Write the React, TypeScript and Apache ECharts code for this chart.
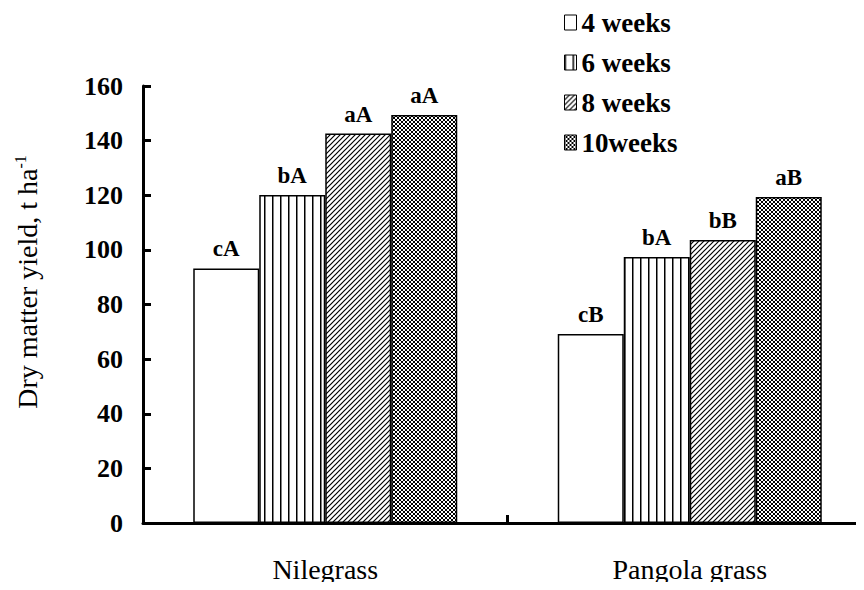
import React, { useEffect, useRef } from "react";
import * as echarts from "echarts";

const categories = ["Nilegrass", "Pangola grass"];
const seriesNames = ["4 weeks", "6 weeks", "8 weeks", "10weeks"];
const w4 = [93.2, 69.2];
const w6 = [120.1, 97.4];
const w8 = [142.6, 103.6];
const w10 = [149.4, 119.4];
const letters4 = ["cA", "cB"];
const letters6 = ["bA", "bA"];
const letters8 = ["aA", "bB"];
const letters10 = ["aA", "aB"];
const yTicks = [0, 20, 40, 60, 80, 100, 120, 140, 160];
const yTitle = "Dry matter yield, t ha";
const yTitleSup = "-1";

const FONT = "'Liberation Serif', 'Times New Roman', serif";
const CHART_W = 880;

function makeCanvas(size: number, draw: (ctx: CanvasRenderingContext2D) => void) {
  const c = document.createElement("canvas");
  c.width = size;
  c.height = size;
  const ctx = c.getContext("2d")!;
  ctx.fillStyle = "#ffffff";
  ctx.fillRect(0, 0, size, size);
  ctx.strokeStyle = "#000000";
  draw(ctx);
  return c;
}

export default function App() {
  const ref = useRef<HTMLDivElement>(null);
  useEffect(() => {
    if (!ref.current) return;
    const chart = echarts.init(ref.current, undefined, { renderer: "svg" });

    const vert = makeCanvas(8, (ctx) => {
      ctx.fillStyle = "#000";
      ctx.fillRect(0, 0, 1.5, 8);
    });
    const diag = makeCanvas(5, (ctx) => {
      ctx.lineWidth = 1.2;
      ctx.beginPath();
      ctx.moveTo(-1, 6);
      ctx.lineTo(6, -1);
      ctx.moveTo(-4, 4);
      ctx.lineTo(4, -4);
      ctx.moveTo(1, 9);
      ctx.lineTo(9, 1);
      ctx.stroke();
    });
    const cross = makeCanvas(4, (ctx) => {
      ctx.lineWidth = 1;
      ctx.beginPath();
      ctx.moveTo(-1, 5);
      ctx.lineTo(5, -1);
      ctx.moveTo(-1, -1);
      ctx.lineTo(5, 5);
      ctx.moveTo(-3, 3);
      ctx.lineTo(3, -3);
      ctx.moveTo(1, 7);
      ctx.lineTo(7, 1);
      ctx.moveTo(-3, 1);
      ctx.lineTo(3, 7);
      ctx.moveTo(1, -3);
      ctx.lineTo(7, 3);
      ctx.stroke();
    });

    const fills: any[] = [
      "#ffffff",
      { image: vert, repeat: "repeat" },
      { image: diag, repeat: "repeat" },
      { image: cross, repeat: "repeat" },
    ];
    const values = [w4, w6, w8, w10];
    const letters = [letters4, letters6, letters8, letters10];

    const series = values.map((vals, si) => ({
      name: seriesNames[si],
      type: "bar",
      barWidth: 66,
      barGap: "0%",
      data: vals,
      itemStyle: { color: fills[si], borderColor: "#000", borderWidth: 1.5 },
      label: {
        show: true,
        position: "top",
        distance: 8,
        formatter: (p: any) => letters[si][p.dataIndex],
        fontFamily: FONT,
        fontWeight: "bold",
        fontSize: 23,
        color: "#000",
      },
    }));

    chart.setOption({
      animation: false,
      backgroundColor: "#fff",
      legend: {
        orient: "vertical",
        left: 559,
        top: 4,
        itemWidth: 12,
        itemHeight: 15,
        itemGap: 13,
        icon: "rect",
        data: seriesNames,
        textStyle: {
          fontFamily: FONT,
          fontWeight: "bold",
          fontSize: 27,
          color: "#000",
        },
        itemStyle: { borderColor: "#000", borderWidth: 1 },
      },
      graphic: [
        {
          type: "text",
          x: 27,
          y: 282,
          rotation: Math.PI / 2,
          style: {
            text: "{a|" + yTitle + "}{s|" + yTitleSup + "}",
            align: "center",
            verticalAlign: "middle",
            fill: "#000",
            rich: {
              a: { fontFamily: FONT, fontSize: 28, fill: "#000" },
              s: { fontFamily: FONT, fontSize: 16, fill: "#000", verticalAlign: "top", padding: [0, 0, 14, 0] },
            },
          },
        },
      ],
      grid: { left: 143, right: CHART_W - 872, top: 86, bottom: 67 },
      xAxis: {
        type: "category",
        data: categories,
        axisLine: { lineStyle: { color: "#000", width: 3 } },
        axisTick: { show: true, inside: true, length: 8, lineStyle: { width: 3, color: "#000" } },
        axisLabel: {
          margin: 32,
          fontFamily: FONT,
          fontSize: 28,
          lineHeight: 28,
          color: "#000",
        },
      },
      yAxis: {
        type: "value",
        min: 0,
        max: 160,
        interval: 20,
        splitLine: { show: false },
        axisLine: { show: true, lineStyle: { color: "#000", width: 3 } },
        axisTick: { show: true, inside: true, length: 8, lineStyle: { width: 3, color: "#000" } },
        axisLabel: {
          margin: 20,
          fontFamily: FONT,
          fontWeight: "bold",
          fontSize: 26,
          color: "#000",
          formatter: (v: number) => (yTicks.includes(v) ? String(v) : ""),
        },
      },
      series,
    });
    return () => chart.dispose();
  }, []);
  return (
    <div style={{ width: 864, height: 590, margin: -8, overflow: "hidden", position: "relative" }}>
      <div ref={ref} style={{ width: CHART_W, height: 590 }} />
    </div>
  );
}
